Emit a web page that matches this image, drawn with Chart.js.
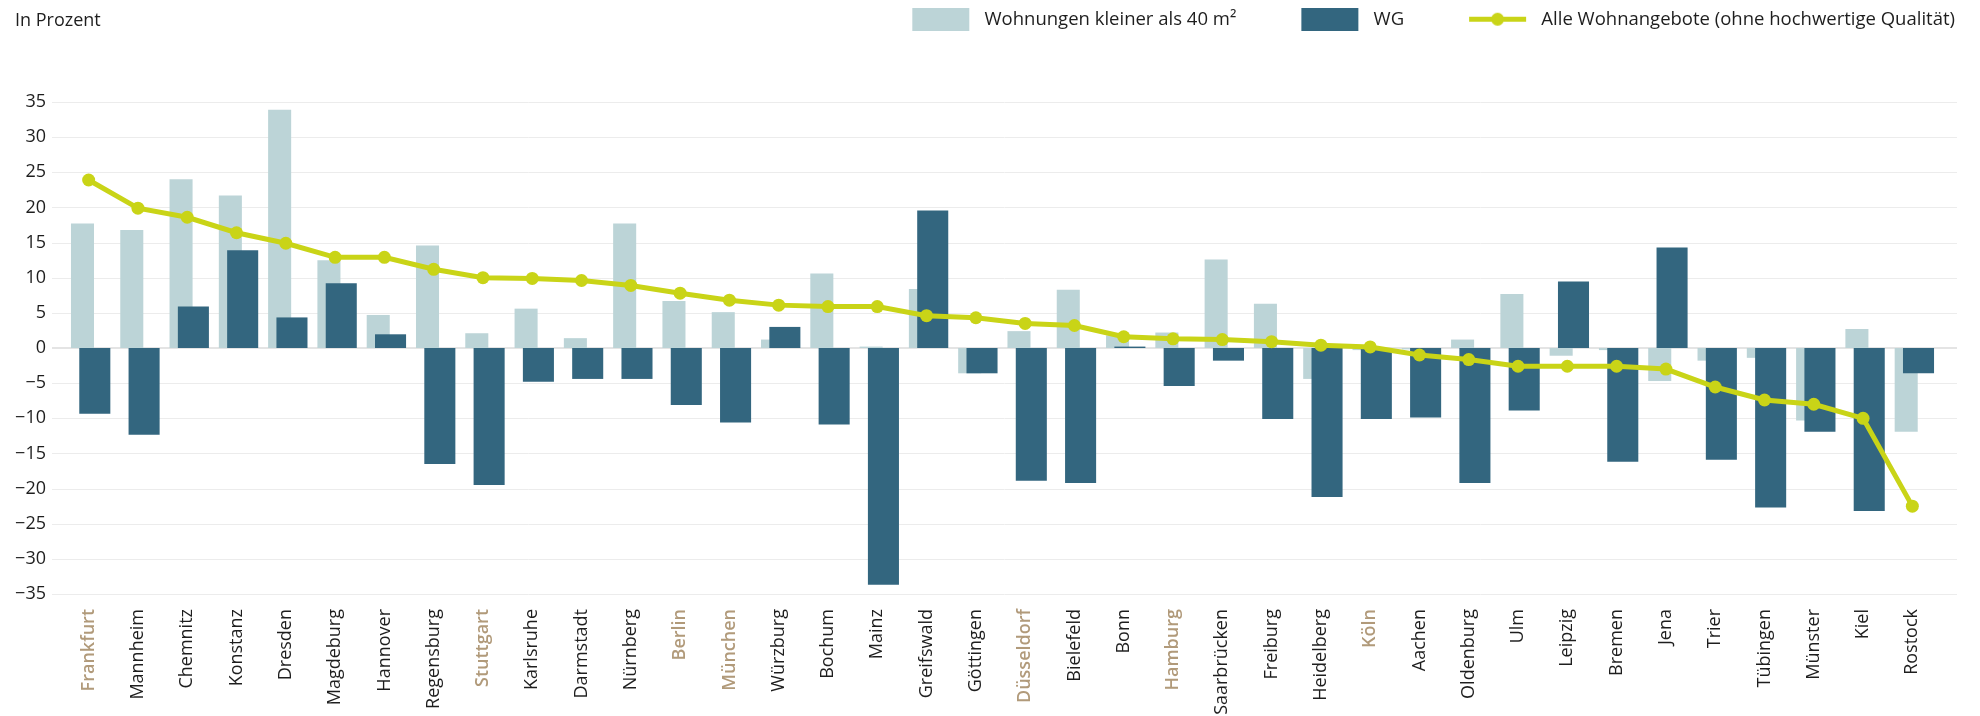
<!DOCTYPE html>
<html lang="de">
<head>
<meta charset="utf-8">
<title>Mietpreise</title>
<script src="https://cdn.jsdelivr.net/npm/chart.js"></script>
<style>
    body { margin: 0; background: #fff; }
    #wrap { width: 1980px; height: 716px; }
</style>
</head>
<body>
<div id="wrap"><canvas id="myChart" width="1980" height="716"></canvas></div>
<script>
var cities = ['Frankfurt', 'Mannheim', 'Chemnitz', 'Konstanz', 'Dresden', 'Magdeburg', 'Hannover', 'Regensburg',
    'Stuttgart', 'Karlsruhe', 'Darmstadt', 'Nürnberg', 'Berlin', 'München', 'Würzburg', 'Bochum', 'Mainz',
    'Greifswald', 'Göttingen', 'Düsseldorf', 'Bielefeld', 'Bonn', 'Hamburg', 'Saarbrücken', 'Freiburg',
    'Heidelberg', 'Köln', 'Aachen', 'Oldenburg', 'Ulm', 'Leipzig', 'Bremen', 'Jena', 'Trier', 'Tübingen',
    'Münster', 'Kiel', 'Rostock'];

// grosse Staedte, in den Achsenbeschriftungen hervorgehoben
var bigCities = ['Frankfurt', 'Stuttgart', 'Berlin', 'München', 'Düsseldorf', 'Hamburg', 'Köln'];

var smallFlats = [17.7, 16.8, 24.0, 21.7, 33.9, 12.5, 4.7, 14.6, 2.1, 5.6, 1.4, 17.7, 6.7, 5.1, 1.2, 10.6, 0.2,
    8.4, -3.6, 2.4, 8.3, 1.8, 2.2, 12.6, 6.3, -4.4, -0.3, -0.2, 1.2, 7.7, -1.1, -0.3, -4.7, -1.8, -1.4,
    -10.3, 2.7, -11.9];

var wg = [-9.35, -12.35, 5.9, 13.9, 4.35, 9.2, 1.95, -16.5, -19.5, -4.8, -4.4, -4.4, -8.1, -10.6, 3.0, -10.9,
    -33.7, 19.55, -3.6, -18.9, -19.2, 0.2, -5.4, -1.8, -10.1, -21.2, -10.1, -9.9, -19.2, -8.9, 9.45, -16.2,
    14.3, -15.9, -22.7, -11.9, -23.2, -3.6];

var allOffers = [23.9, 19.9, 18.6, 16.4, 14.9, 12.9, 12.9, 11.2, 10.0, 9.9, 9.6, 8.9, 7.8, 6.8, 6.1, 5.9, 5.9,
    4.6, 4.3, 3.5, 3.2, 1.6, 1.3, 1.2, 0.9, 0.4, 0.15, -1.0, -1.65, -2.6, -2.6, -2.6, -3.0, -5.55, -7.4,
    -8.0, -10.0, -22.5];

var seriesNames = ['Wohnungen kleiner als 40 m²', 'WG', 'Alle Wohnangebote (ohne hochwertige Qualität)'];

var yMin = -35, yMax = 35, yStep = 5;

var colLight = '#bcd4d7';
var colDark = '#33667f';
var colLime = '#c9d417';
var colTan = '#b19a7a';
var colText = '#1e1e1e';
var fontFam = '"Open Sans", "Noto Sans", sans-serif';

// legend icons: transparent margin left so the items get more space
function makeIcon(kind) {
    var c = document.createElement('canvas');
    c.width = 103;
    c.height = 23;
    var g = c.getContext('2d');
    if (kind === 'line') {
        g.strokeStyle = colLime;
        g.lineWidth = 5;
        g.beginPath();
        g.moveTo(40, 11.5);
        g.lineTo(97, 11.5);
        g.stroke();
        g.fillStyle = colLime;
        g.beginPath();
        g.arc(68.5, 11.5, 6.5, 0, Math.PI * 2);
        g.fill();
    } else {
        g.fillStyle = kind;
        g.fillRect(40, 0, 57, 23);
    }
    return c;
}
var legendIcons = [makeIcon(colLight), makeIcon(colDark), makeIcon('line')];

var gridPlugin = {
    id: 'gridLines',
    beforeDatasetsDraw: function(chart) {
        var ctx = chart.ctx;
        var y = chart.scales.y;
        ctx.save();
        y.ticks.forEach(function(t) {
            var py = Math.round(y.getPixelForValue(t.value));
            ctx.beginPath();
            if (t.value === 0) {
                ctx.strokeStyle = '#e4e4e4';
                ctx.lineWidth = 2;
                ctx.moveTo(52, py);
                ctx.lineTo(1957, py);
            } else {
                ctx.strokeStyle = '#ececec';
                ctx.lineWidth = 1;
                ctx.moveTo(52, py + 0.5);
                ctx.lineTo(1957, py + 0.5);
            }
            ctx.stroke();
        });
        ctx.restore();
    },
    afterDraw: function(chart) {
        var ctx = chart.ctx;
        ctx.save();
        ctx.font = '18px ' + fontFam;
        ctx.fillStyle = colText;
        ctx.textBaseline = 'middle';
        ctx.fillText('In Prozent', 15, 21);
        ctx.restore();
    }
};

// WG bars sit right of the light bars but have to be painted over them
var barOrderPlugin = {
    id: 'barOrder',
    beforeDatasetDraw: function(chart, args) {
        if (args.index === 1) return false;
    },
    afterDatasetDraw: function(chart, args) {
        if (args.index === 0) {
            chart.getDatasetMeta(1).controller.draw();
        }
    }
};

var legendPlugin = {
    id: 'legendPlace',
    beforeLayout: function(chart) {
        var lg = chart.legend;
        if (lg && !lg._patched) {
            var fit = lg.fit;
            lg.fit = function() {
                fit.call(this);
                this.height = 102;
            };
            lg._patched = true;
        }
    },
    afterLayout: function(chart) {
        var lg = chart.legend;
        lg.top -= 15;
        lg.bottom -= 15;
        lg.left = 0;
        lg.right = 1980;
    }
};

document.addEventListener('DOMContentLoaded', function() {
    var ctx = document.getElementById('myChart').getContext('2d');
    var myChart = new Chart(ctx, {
        type: 'bar',
        data: {
            labels: cities,
            datasets: [
                {
                    label: seriesNames[0],
                    data: smallFlats,
                    backgroundColor: colLight,
                    categoryPercentage: 0.5,
                    barPercentage: 1.87,
                    order: 2
                },
                {
                    label: seriesNames[1],
                    data: wg,
                    backgroundColor: colDark,
                    categoryPercentage: 0.5,
                    barPercentage: 2.52,
                    order: 3
                },
                {
                    type: 'line',
                    label: seriesNames[2],
                    data: allOffers,
                    borderColor: colLime,
                    backgroundColor: colLime,
                    borderWidth: 5,
                    pointRadius: 6.5,
                    pointBorderWidth: 0,
                    pointBackgroundColor: colLime,
                    tension: 0,
                    order: 1
                }
            ]
        },
        options: {
            responsive: false,
            animation: false,
            devicePixelRatio: 1,
            layout: {
                padding: { left: 0, right: 43, top: 0, bottom: 0 }
            },
            plugins: {
                tooltip: { enabled: false },
                legend: {
                    position: 'top',
                    align: 'end',
                    labels: {
                        usePointStyle: true,
                        pointStyleWidth: 103,
                        padding: 25,
                        color: colText,
                        font: { family: fontFam, size: 18.5 },
                        generateLabels: function(chart) {
                            return chart.data.datasets.map(function(ds, i) {
                                return {
                                    text: ds.label,
                                    pointStyle: legendIcons[i],
                                    fillStyle: 'transparent',
                                    strokeStyle: 'transparent',
                                    lineWidth: 0,
                                    fontColor: colText,
                                    hidden: false,
                                    datasetIndex: i
                                };
                            });
                        }
                    }
                }
            },
            scales: {
                x: {
                    grid: { display: false, drawTicks: false },
                    border: { display: false },
                    ticks: {
                        autoSkip: false,
                        maxRotation: 90,
                        minRotation: 90,
                        padding: 15,
                        font: function(c) {
                            var big = bigCities.indexOf(cities[c.index]) >= 0;
                            return { family: fontFam, size: 18, weight: big ? '600' : 'normal' };
                        },
                        color: function(c) {
                            return bigCities.indexOf(cities[c.index]) >= 0 ? colTan : colText;
                        }
                    },
                    afterFit: function(scale) {
                        scale.height = 122;
                    }
                },
                y: {
                    min: yMin,
                    max: yMax,
                    grid: { display: false, drawTicks: false },
                    border: { display: false },
                    ticks: {
                        stepSize: yStep,
                        padding: 18,
                        color: colText,
                        font: { family: fontFam, size: 18 },
                        callback: function(v) {
                            return v < 0 ? '\u2212' + Math.abs(v) : String(v);
                        }
                    },
                    afterFit: function(scale) {
                        scale.width = 64;
                    }
                }
            }
        },
        plugins: [gridPlugin, barOrderPlugin, legendPlugin]
    });
});
</script>
</body>
</html>
